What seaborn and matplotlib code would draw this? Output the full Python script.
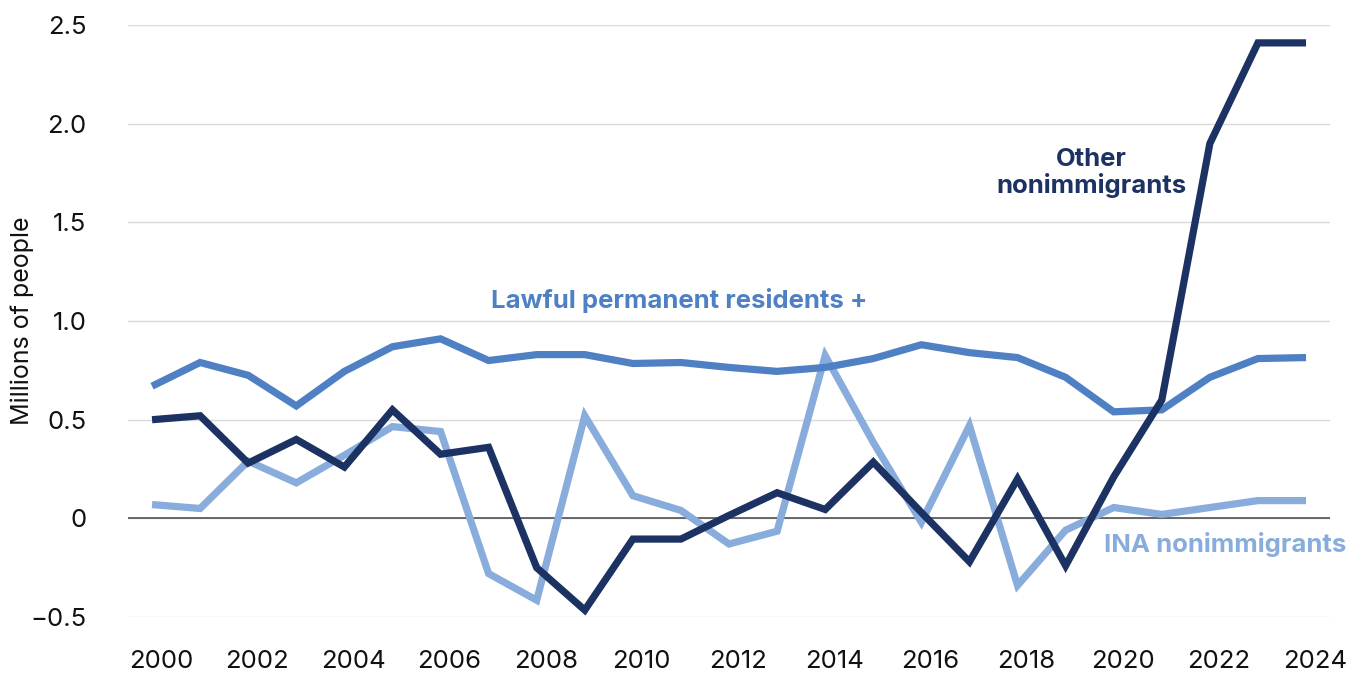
import numpy as np
import pandas as pd
import matplotlib
matplotlib.use('Agg')
import matplotlib.pyplot as plt
from matplotlib.transforms import ScaledTranslation
import seaborn as sns

# Data (millions of people)
years = list(range(2000, 2025))
lpr = [0.67, 0.79, 0.725, 0.57, 0.745, 0.87, 0.91, 0.80, 0.83, 0.83,
       0.785, 0.79, 0.765, 0.745, 0.765, 0.81, 0.88, 0.84, 0.815, 0.715,
       0.54, 0.55, 0.715, 0.81, 0.815]
other_nonimm = [0.50, 0.52, 0.28, 0.40, 0.26, 0.55, 0.325, 0.36, -0.25, -0.465,
                -0.105, -0.105, 0.015, 0.13, 0.045, 0.285, 0.03, -0.22, 0.20, -0.24,
                0.21, 0.60, 1.90, 2.41, 2.41]
ina_nonimm = [0.07, 0.05, 0.29, 0.18, 0.32, 0.465, 0.44, -0.28, -0.415, 0.52,
              0.115, 0.04, -0.13, -0.065, 0.825, 0.385, -0.02, 0.47, -0.34, -0.06,
              0.055, 0.02, 0.055, 0.09, 0.09]

series_names = ['Lawful permanent residents +', 'Other nonimmigrants', 'INA nonimmigrants']
colors = {'Lawful permanent residents +': '#4f80c3',
          'Other nonimmigrants': '#1b3262',
          'INA nonimmigrants': '#88acdb'}

df = pd.DataFrame({
    'year': years * 3,
    'value': lpr + other_nonimm + ina_nonimm,
    'series': [series_names[0]] * len(years) + [series_names[1]] * len(years) + [series_names[2]] * len(years),
})

sns.set_style('white')
plt.rcParams['font.family'] = ['Inter', 'DejaVu Sans']

fig = plt.figure(figsize=(13.66, 6.79), dpi=100)
ax = fig.add_axes([0.0937, 0.0913, 0.88, 0.8717])

# draw in the same order as the reference (light under medium under dark)
for name in [series_names[2], series_names[0], series_names[1]]:
    sub = df[df['series'] == name]
    sns.lineplot(data=sub, x='year', y='value', color=colors[name], linewidth=5.2,
                 ax=ax, legend=False, solid_joinstyle='miter', solid_capstyle='butt')

ax.set_xlim(1999.5, 2024.5)
ax.set_ylim(-0.5, 2.5)
ax.set_xticks(list(range(2000, 2025, 2)))
ax.set_yticks([-0.5, 0, 0.5, 1.0, 1.5, 2.0, 2.5])
ax.set_yticklabels(['\u22120.5', '0', '0.5', '1.0', '1.5', '2.0', '2.5'])
ax.tick_params(axis='both', length=0, labelsize=18.5, colors='#111111')
ax.tick_params(axis='x', pad=24)
ax.tick_params(axis='y', pad=30)
# year labels sit a little right of the points in the original
for lab in ax.get_xticklabels():
    lab.set_transform(lab.get_transform() + ScaledTranslation(0.09, 0, fig.dpi_scale_trans))
ax.set_xlabel('')
ax.set_ylabel('Millions of people', fontsize=18, color='#111111', labelpad=-3)

ax.grid(axis='y', color='#d9d9d9', linewidth=1)
ax.grid(axis='x', visible=False)
ax.set_axisbelow(True)
ax.axhline(0, color='#444444', linewidth=1.1, zorder=1.5)
for s in ax.spines.values():
    s.set_visible(False)

# direct labels
ax.text(2010.96, 1.105, 'Lawful permanent residents +', color=colors[series_names[0]],
        fontsize=18.5, fontweight='bold', ha='center', va='center')
ax.text(2019.53, 1.75, 'Other\nnonimmigrants', color=colors[series_names[1]],
        fontsize=18.5, fontweight='bold', ha='center', va='center', linespacing=1.1)
ax.text(2019.8, -0.135, 'INA nonimmigrants', color=colors[series_names[2]],
        fontsize=18.5, fontweight='bold', ha='left', va='center')

fig.savefig('out.png', dpi=100)
